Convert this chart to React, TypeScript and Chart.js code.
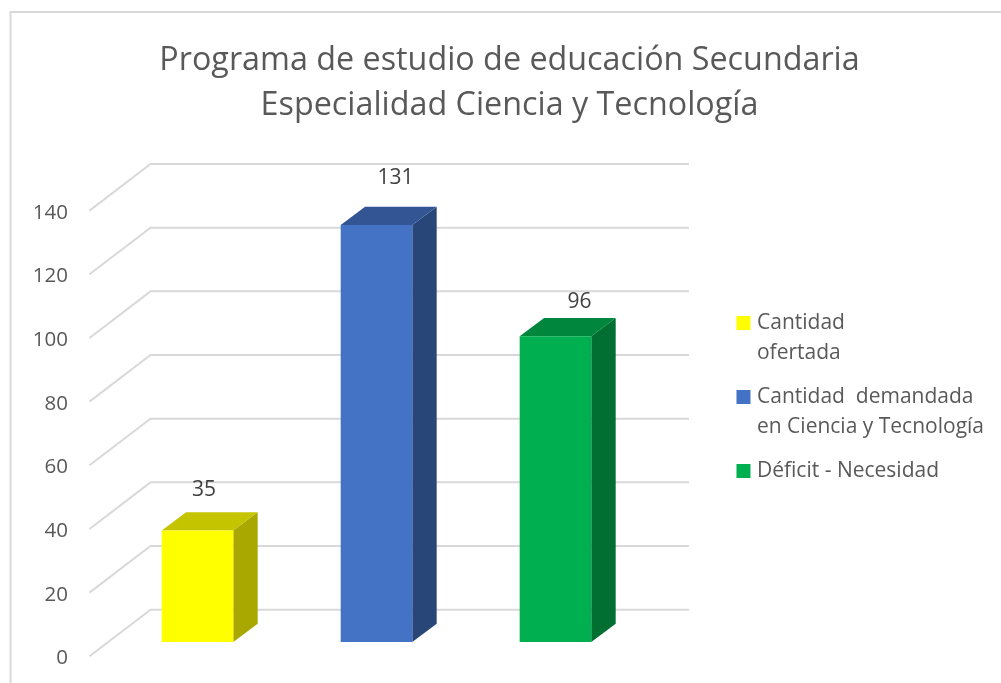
import React, { useEffect, useRef } from "react";
import { Chart, registerables } from "chart.js";

Chart.register(...registerables);

const titleLines = ["Programa de estudio de educación Secundaria", "Especialidad Ciencia y Tecnología"];
const categories = [["Cantidad", "ofertada"], ["Cantidad  demandada", "en Ciencia y Tecnología"], ["Déficit - Necesidad"]];
const values = [35, 131, 96];
const frontColors = ["#ffff00", "#4472c4", "#00b050"];
const topColors = ["#c4c400", "#335593", "#00873d"];
const sideColors = ["#a8a800", "#294678", "#006f31"];
const valueLabelNudgeX = [6.5, 19, 24];
const valueLabelNudgeY = [-40.6, -47, -34.7];

const FONT = "'Open Sans', sans-serif";
const GREY = "#595959";
const GRID = "#d9d9d9";
const DEPTH_X = 24.4;
const DEPTH_Y = 18.3;

const face = (ctx: CanvasRenderingContext2D, pts: number[][], color: string) => {
  ctx.beginPath();
  pts.forEach(([x, y], i) => (i ? ctx.lineTo(x, y) : ctx.moveTo(x, y)));
  ctx.closePath();
  ctx.fillStyle = color;
  ctx.fill();
};

const frame3d = {
  id: "frame3d",
  beforeDraw(chart: any) {
    const { ctx, width, height } = chart;
    ctx.save();
    ctx.fillStyle = "#ffffff";
    ctx.fillRect(0, 0, width, height);
    ctx.strokeStyle = GRID;
    ctx.lineWidth = 2;
    ctx.strokeRect(10.5, 12, width + 20, height + 20);
    ctx.restore();
  },
  beforeDatasetsDraw(chart: any) {
    const { ctx } = chart;
    const y = chart.scales.y;
    ctx.save();
    ctx.strokeStyle = GRID;
    ctx.lineWidth = 2;
    y.ticks.forEach((t: any) => {
      const p = y.getPixelForValue(t.value);
      ctx.beginPath();
      ctx.moveTo(89.5, p + 14.3);
      ctx.lineTo(150.5, p - 32.3);
      ctx.lineTo(689, p - 32.3);
      ctx.stroke();
    });
    chart.getDatasetMeta(0).data.forEach((bar: any, i: number) => {
      const l = bar.x - bar.width / 2;
      const r = bar.x + bar.width / 2;
      face(ctx, [[r, bar.y], [r + DEPTH_X, bar.y - DEPTH_Y], [r + DEPTH_X, bar.base - DEPTH_Y], [r, bar.base]], sideColors[i]);
      face(ctx, [[l, bar.y], [l + DEPTH_X, bar.y - DEPTH_Y], [r + DEPTH_X, bar.y - DEPTH_Y], [r, bar.y]], topColors[i]);
    });
    ctx.restore();
  },
  afterDatasetsDraw(chart: any) {
    const { ctx } = chart;
    ctx.save();
    ctx.fillStyle = "#404040";
    ctx.font = `21px ${FONT}`;
    ctx.textAlign = "center";
    ctx.textBaseline = "middle";
    chart.getDatasetMeta(0).data.forEach((bar: any, i: number) => {
      ctx.fillText(String(values[i]), bar.x + valueLabelNudgeX[i], bar.y + valueLabelNudgeY[i]);
    });
    ctx.restore();
  },
};

export default function App() {
  const ref = useRef<HTMLCanvasElement>(null);
  useEffect(() => {
    document.body.style.margin = "0";
    document.body.style.overflow = "hidden";
    const chart = new Chart(ref.current as HTMLCanvasElement, {
      type: "bar",
      data: {
        labels: categories as any,
        datasets: [{ data: values, backgroundColor: frontColors, barPercentage: 0.4, categoryPercentage: 1 }],
      },
      plugins: [frame3d],
      options: {
        responsive: false,
        animation: false,
        layout: { padding: { left: 25, right: 7, top: 0, bottom: 0 } },
        scales: {
          x: {
            grid: { display: false },
            border: { display: false },
            ticks: { display: false },
            afterFit: (s: any) => { s.height = 41; s.paddingLeft = 0; s.paddingRight = 0; },
          },
          y: {
            min: 0,
            max: 140,
            grid: { display: false, drawTicks: false },
            border: { display: false },
            ticks: { stepSize: 20, padding: 40, labelOffset: 16.5, color: GREY, font: { family: FONT, size: 20.5 } },
            afterFit: (s: any) => { s.width = 83; s.paddingTop = 0; s.paddingBottom = 0; },
          },
          spacer: {
            type: "linear",
            position: "right",
            grid: { display: false },
            border: { display: false },
            ticks: { display: false },
            afterFit: (s: any) => { s.width = 81.5; s.paddingTop = 0; s.paddingBottom = 0; },
          },
        },
        plugins: {
          title: {
            display: true,
            text: titleLines,
            color: GREY,
            font: { family: FONT, size: 32.3, weight: "normal", lineHeight: 1.393 },
            padding: { top: 38.5, bottom: 67.8 },
          },
          legend: {
            position: "right",
            align: "start",
            fullSize: false,
            maxWidth: 320,
            title: { display: true, text: "", font: { size: 1, lineHeight: 1 }, padding: { top: 101.2, bottom: 0 } },
            labels: {
              boxWidth: 6,
              boxHeight: 6,
              padding: 14,
              color: GREY,
              font: { family: FONT, size: 21, lineHeight: 1.4286 },
              generateLabels: () =>
                categories.map((text, i) => ({
                  text: text as any,
                  fillStyle: frontColors[i],
                  strokeStyle: frontColors[i],
                  lineWidth: 8,
                  lineJoin: "miter",
                  fontColor: GREY,
                  index: i,
                })),
            },
          },
          tooltip: { enabled: false },
        },
      } as any,
    });
    return () => chart.destroy();
  }, []);
  return <canvas ref={ref} width={1001} height={683} style={{ display: "block" }} />;
}
